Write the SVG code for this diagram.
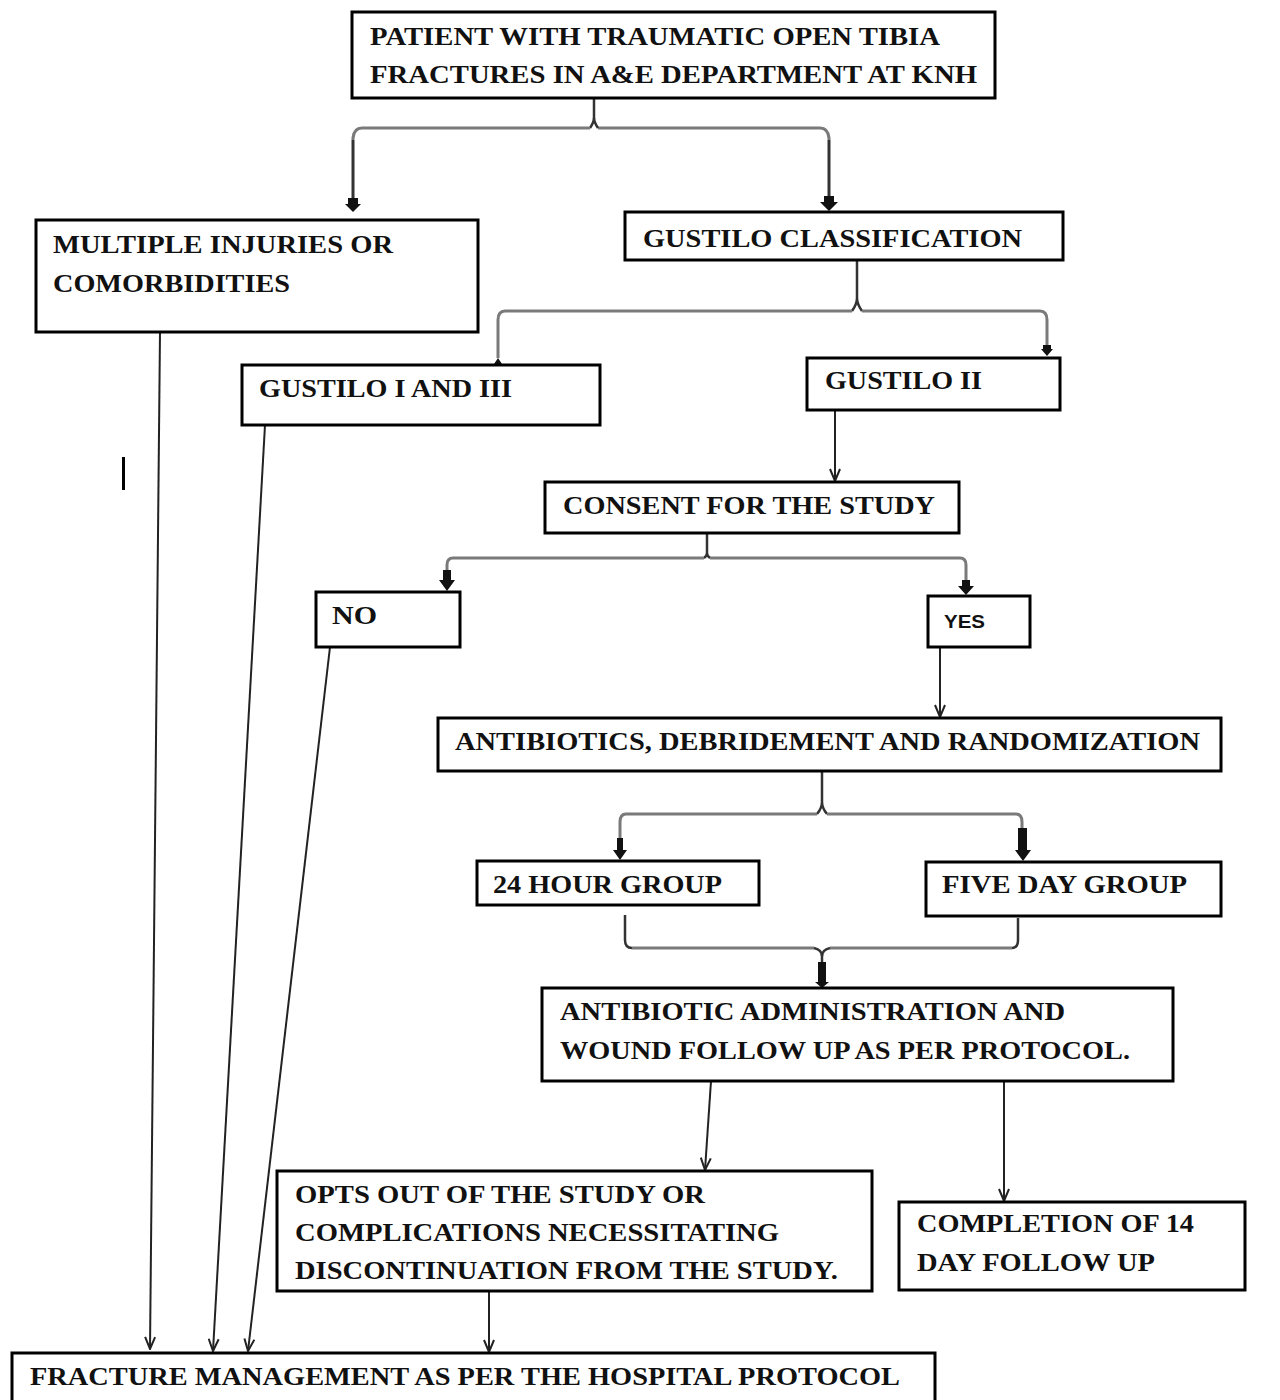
<svg xmlns="http://www.w3.org/2000/svg" width="1280" height="1400" viewBox="0 0 1280 1400">
<style>
.box{fill:#fff;stroke:#000;stroke-width:3}
.t{font-family:"Liberation Serif","Times New Roman",serif;font-weight:bold;font-size:26px;fill:#111}
.s{font-family:"Liberation Sans",Arial,sans-serif;font-weight:bold;font-size:19px;fill:#111}
.br{fill:none;stroke:#7a7a7a;stroke-width:3}
.st{fill:none;stroke:#333;stroke-width:2.5}
.ln{fill:none;stroke:#222;stroke-width:2;marker-end:url(#v)}
.blk{fill:#111}
</style>
<defs>
<marker id="v" viewBox="0 0 14 12" refX="13" refY="6" markerWidth="14" markerHeight="12" markerUnits="userSpaceOnUse" orient="auto">
<path d="M1,1 L13,6 L1,11" fill="none" stroke="#222" stroke-width="2"/>
</marker>
</defs>
<rect width="1280" height="1400" fill="#fff"/>

<g id="connectors">
<!-- top brace -->
<path class="st" d="M594,98 L594,118 Q594,122 590,128"/>
<path class="br" d="M590,128 L362,128 Q354,128 353,138 L353,198"/>
<path class="br" d="M598,128 L820,128 Q828,128 829,138 L829,198"/>
<path class="st" d="M594,118 Q594,122 598,128"/>
<path class="st" d="M353,140 L353,198 M829,140 L829,198"/>
<path class="blk" d="M348,198 L358,198 L358,204 L361,204 L353,212 L345,204 L348,204 Z"/>
<path class="blk" d="M824,196 L834,196 L834,202 L838,202 L829,211 L820,202 L824,202 Z"/>

<!-- gustilo classification brace -->
<path class="st" d="M857,260 L857,298 Q857,304 852,311 M857,298 Q857,304 862,311"/>
<path class="br" d="M852,311 L505,311 Q498,311 498,320 L498,358"/>
<path class="br" d="M862,311 L1040,311 Q1047,311 1047,320 L1047,348"/>
<path class="blk" d="M498,358 L502,364 L494,364 Z"/>
<path class="blk" d="M1043,345 L1051,345 L1051,349 L1053,349 L1047,356 L1041,349 L1043,349 Z"/>

<!-- gustilo II to consent -->
<line class="ln" x1="835" y1="410" x2="835" y2="481"/>

<!-- consent brace -->
<path class="st" d="M707,533 L707,553 Q707,556 704,558 M707,553 Q707,556 710,558"/>
<path class="br" d="M704,558 L453,558 Q447,558 447,565 L447,575"/>
<path class="br" d="M710,558 L960,558 Q966,558 966,565 L966,580"/>
<path class="blk" d="M443,570 L451,570 L451,580 L455,580 L447,591 L439,580 L443,580 Z"/>
<path class="blk" d="M962,580 L970,580 L970,586 L974,586 L966,595 L958,586 L962,586 Z"/>

<!-- yes to antibiotics -->
<line class="ln" x1="940" y1="647" x2="940" y2="717"/>

<!-- antibiotics brace -->
<path class="st" d="M822,771 L822,802 Q822,808 817,814 M822,802 Q822,808 827,814"/>
<path class="br" d="M817,814 L626,814 Q620,814 620,822 L620,845"/>
<path class="br" d="M827,814 L1016,814 Q1022,814 1022,822 L1022,835"/>
<path class="blk" d="M617,838 L623,838 L623,850 L627,850 L620,860 L613,850 L617,850 Z"/>
<path class="blk" d="M1018,828 L1027,828 L1027,850 L1031,850 L1023,861 L1015,850 L1018,850 Z"/>

<!-- 24h / five day merge brace -->
<path class="st" d="M625,915 L625,940 Q625,948 632,948"/>
<path class="br" d="M632,948 L814,948 M830,948 L1012,948"/>
<path class="st" d="M1018,918 L1018,940 Q1018,948 1012,948"/>
<path class="st" d="M814,948 Q822,950 822,956 Q822,950 830,948"/>
<path class="st" d="M822,954 L822,975"/>
<path class="blk" d="M818,962 L826,962 L826,982 L829,982 L822,988 L815,982 L818,982 Z"/>

<!-- admin to opts out / completion -->
<line class="ln" x1="711" y1="1081" x2="705" y2="1170"/>
<line class="ln" x1="1004" y1="1081" x2="1004" y2="1201"/>

<!-- to fracture management -->
<line class="ln" x1="489" y1="1291" x2="489" y2="1352"/>
<line class="ln" x1="160" y1="332" x2="150" y2="1349"/>
<line class="ln" x1="265" y1="425" x2="213" y2="1351"/>
<line class="ln" x1="330" y1="647" x2="248" y2="1351"/>
</g>

<rect x="122" y="457" width="3" height="33" fill="#000"/>

<g id="n-patient">
<rect class="box" x="352" y="12" width="643" height="86"/>
<text class="t" x="370" y="45" textLength="570" lengthAdjust="spacingAndGlyphs">PATIENT WITH TRAUMATIC OPEN TIBIA</text>
<text class="t" x="370" y="83" textLength="607" lengthAdjust="spacingAndGlyphs">FRACTURES IN A&amp;E DEPARTMENT AT KNH</text>
</g>

<g id="n-multiple">
<rect class="box" x="36" y="220" width="442" height="112"/>
<text class="t" x="53" y="253" textLength="340" lengthAdjust="spacingAndGlyphs">MULTIPLE INJURIES OR</text>
<text class="t" x="53" y="292" textLength="237" lengthAdjust="spacingAndGlyphs">COMORBIDITIES</text>
</g>

<g id="n-gustilo-class">
<rect class="box" x="625" y="212" width="438" height="48"/>
<text class="t" x="643" y="247" textLength="379" lengthAdjust="spacingAndGlyphs">GUSTILO CLASSIFICATION</text>
</g>

<g id="n-gustilo-1-3">
<rect class="box" x="242" y="365" width="358" height="60"/>
<text class="t" x="259" y="397" textLength="253" lengthAdjust="spacingAndGlyphs">GUSTILO I AND III</text>
</g>

<g id="n-gustilo-2">
<rect class="box" x="807" y="358" width="253" height="52"/>
<text class="t" x="825" y="389" textLength="157" lengthAdjust="spacingAndGlyphs">GUSTILO II</text>
</g>

<g id="n-consent">
<rect class="box" x="545" y="482" width="414" height="51"/>
<text class="t" x="563" y="514" textLength="372" lengthAdjust="spacingAndGlyphs">CONSENT FOR THE STUDY</text>
</g>

<g id="n-no">
<rect class="box" x="316" y="592" width="144" height="55"/>
<text class="t" x="332" y="624" textLength="45" lengthAdjust="spacingAndGlyphs">NO</text>
</g>

<g id="n-yes">
<rect class="box" x="928" y="596" width="102" height="51"/>
<text class="s" x="944" y="628" textLength="41" lengthAdjust="spacingAndGlyphs">YES</text>
</g>

<g id="n-antibiotics">
<rect class="box" x="438" y="718" width="783" height="53"/>
<text class="t" x="455" y="750" textLength="745" lengthAdjust="spacingAndGlyphs">ANTIBIOTICS, DEBRIDEMENT AND RANDOMIZATION</text>
</g>

<g id="n-24h">
<rect class="box" x="477" y="861" width="282" height="44"/>
<text class="t" x="493" y="893" textLength="229" lengthAdjust="spacingAndGlyphs">24 HOUR GROUP</text>
</g>

<g id="n-fiveday">
<rect class="box" x="926" y="862" width="295" height="54"/>
<text class="t" x="942" y="893" textLength="245" lengthAdjust="spacingAndGlyphs">FIVE DAY GROUP</text>
</g>

<g id="n-admin">
<rect class="box" x="542" y="988" width="631" height="93"/>
<text class="t" x="560" y="1020" textLength="505" lengthAdjust="spacingAndGlyphs">ANTIBIOTIC ADMINISTRATION AND</text>
<text class="t" x="560" y="1059" textLength="570" lengthAdjust="spacingAndGlyphs">WOUND FOLLOW UP AS PER PROTOCOL.</text>
</g>

<g id="n-optout">
<rect class="box" x="277" y="1171" width="595" height="120"/>
<text class="t" x="295" y="1203" textLength="410" lengthAdjust="spacingAndGlyphs">OPTS OUT OF THE STUDY OR</text>
<text class="t" x="295" y="1241" textLength="484" lengthAdjust="spacingAndGlyphs">COMPLICATIONS NECESSITATING</text>
<text class="t" x="295" y="1279" textLength="543" lengthAdjust="spacingAndGlyphs">DISCONTINUATION FROM THE STUDY.</text>
</g>

<g id="n-completion">
<rect class="box" x="899" y="1202" width="346" height="88"/>
<text class="t" x="917" y="1232" textLength="277" lengthAdjust="spacingAndGlyphs">COMPLETION OF 14</text>
<text class="t" x="917" y="1271" textLength="238" lengthAdjust="spacingAndGlyphs">DAY FOLLOW UP</text>
</g>

<g id="n-fracture">
<rect class="box" x="12" y="1353" width="923" height="60"/>
<text class="t" x="30" y="1385" textLength="870" lengthAdjust="spacingAndGlyphs">FRACTURE MANAGEMENT AS PER THE HOSPITAL PROTOCOL</text>
</g>
</svg>
